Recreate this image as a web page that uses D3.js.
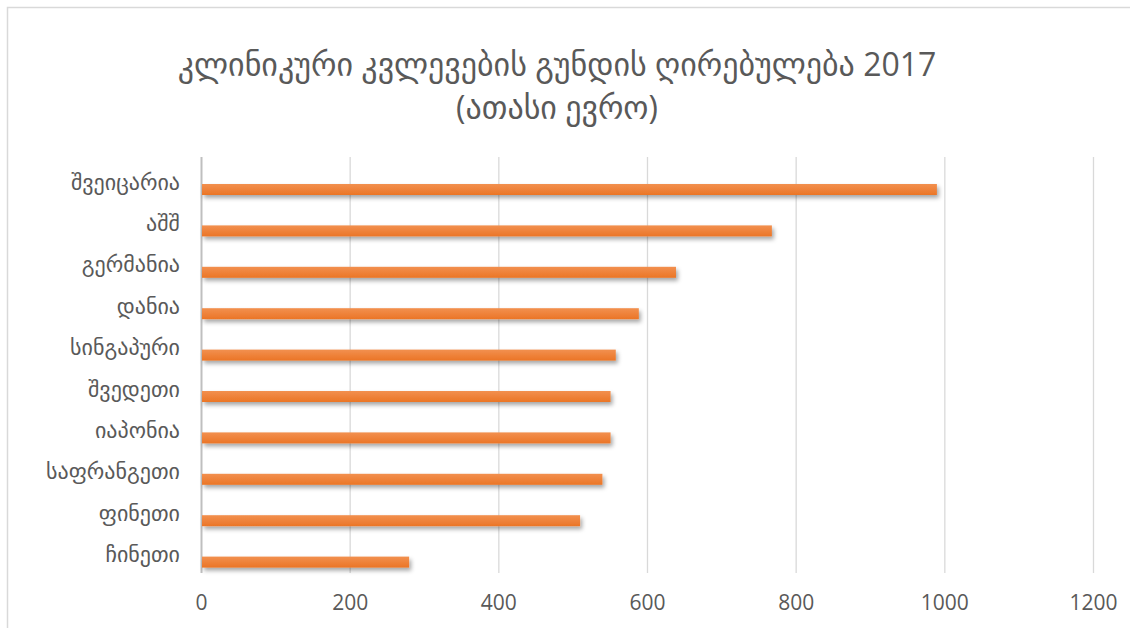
<!DOCTYPE html>
<html><head><meta charset="utf-8">
<script src="https://cdn.jsdelivr.net/npm/d3@7"></script>
<style>
body{margin:0;background:#fff;}
svg{display:block;}
text{font-family:"Open Sans","DejaVu Sans",sans-serif;fill:#595959;}
</style></head>
<body>
<svg id="c" width="1130" height="628"></svg>
<script>
const titleLines = ["კლინიკური კვლევების გუნდის ღირებულება 2017", "(ათასი ევრო)"];
const categories = ["შვეიცარია","აშშ","გერმანია","დანია","სინგაპური","შვედეთი","იაპონია","საფრანგეთი","ფინეთი","ჩინეთი"];
const values = [990, 768, 639, 589, 558, 551, 551, 540, 510, 280];
const xTicks = [0, 200, 400, 600, 800, 1000, 1200];

const svg = d3.select("#c");
const defs = svg.append("defs");
const g = defs.append("linearGradient").attr("id","bg").attr("x1",0).attr("y1",0).attr("x2",0).attr("y2",1);
g.append("stop").attr("offset","0%").attr("stop-color","#F2904F");
g.append("stop").attr("offset","100%").attr("stop-color","#EB7526");
const f = defs.append("filter").attr("id","sh").attr("x","-5%").attr("y","-50%").attr("width","110%").attr("height","250%");
f.append("feDropShadow").attr("dx",2).attr("dy",3).attr("stdDeviation",2).attr("flood-color","#000").attr("flood-opacity",0.35);

// border
svg.append("path").attr("d","M7.5,628 L7.5,7.5 L1130,7.5").attr("fill","none").attr("stroke","#D9D9D9").attr("stroke-width",1.5);

// title
svg.append("text").attr("x",557).attr("y",76).attr("text-anchor","middle").style("font-size","32px").text(titleLines[0]);
svg.append("text").attr("x",557).attr("y",119).attr("text-anchor","middle").style("font-size","32px").text(titleLines[1]);

const x = d3.scaleLinear().domain([0,1200]).range([201,1093]);
const y = d3.scaleBand().domain(categories).range([168.8,582.8]).paddingInner(0).paddingOuter(0);
const barH = 11;

// gridlines
const grid = svg.append("g");
grid.selectAll("line").data(xTicks).join("line")
  .attr("x1",d=>x(d)+0.5).attr("x2",d=>x(d)+0.5)
  .attr("y1",157).attr("y2",573)
  .attr("stroke",d=>d===0?"#BFBFBF":"#D9D9D9").attr("stroke-width",d=>d===0?2:1.3);

// bars
svg.append("g").selectAll("rect").data(categories).join("rect")
  .attr("x",x(0)+1).attr("y",d=>y(d)+y.bandwidth()/2-barH/2)
  .attr("width",(d,i)=>x(values[i])-x(0)-1).attr("height",barH)
  .attr("fill","url(#bg)").attr("filter","url(#sh)");

// category labels
svg.append("g").selectAll("text").data(categories).join("text")
  .attr("x",180).attr("y",d=>y(d)+y.bandwidth()/2)
  .attr("text-anchor","end").style("font-size","22px").text(d=>d);

// x axis labels
const xa = svg.append("g").attr("transform","translate(0,573)")
  .call(d3.axisBottom(x).tickValues(xTicks).tickSize(0).tickPadding(22).tickFormat(d3.format("d")));
xa.select(".domain").remove();
xa.selectAll("text").style("font-size","21px").attr("fill","#595959")
  .style("font-family","'Open Sans','Liberation Sans',sans-serif");
</script>
</body></html>
